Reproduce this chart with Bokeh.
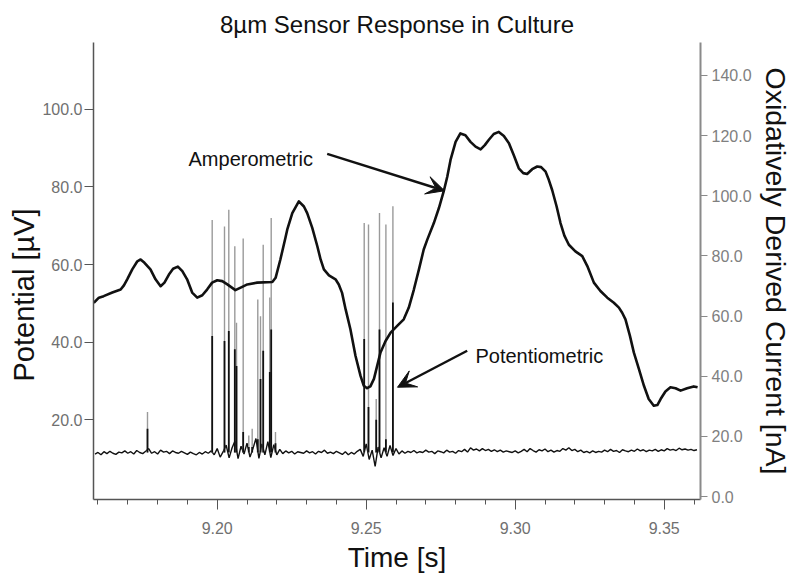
from bokeh.plotting import figure
from bokeh.models import (Range1d, LinearAxis, FixedTicker, PrintfTickFormatter,
                          Label, Arrow, VeeHead, ColumnDataSource, Title)
from bokeh.embed import file_html
from bokeh.resources import INLINE

# ---------------- data ----------------
# Amperometric trace: time [s] vs oxidatively derived current [nA] (right axis)
amp_t = [9.1586, 9.1603, 9.1619, 9.1648, 9.1676, 9.1687, 9.1698, 9.1715, 9.1732,
         9.1743, 9.1756, 9.1776, 9.1793, 9.1810, 9.1823, 9.1838, 9.1852, 9.1868,
         9.1883, 9.1899, 9.1916, 9.1933, 9.1950, 9.1966, 9.1983, 9.2000, 9.2017,
         9.2034, 9.2061, 9.2084, 9.2101, 9.2134, 9.2185, 9.2196, 9.2212, 9.2229,
         9.2235, 9.2252, 9.2274, 9.2291, 9.2302, 9.2319, 9.2336, 9.2347, 9.2358,
         9.2375, 9.2397, 9.2408, 9.2419, 9.2431, 9.2447, 9.2464, 9.2481, 9.2492,
         9.2503, 9.2514, 9.2526, 9.2537, 9.2548, 9.2565, 9.2582, 9.2604, 9.2626,
         9.2643, 9.2660, 9.2677, 9.2693, 9.2705, 9.2727, 9.2744, 9.2760, 9.2772,
         9.2783, 9.2800, 9.2816, 9.2833, 9.2850, 9.2867, 9.2884, 9.2898, 9.2911,
         9.2928, 9.2945, 9.2962, 9.2979, 9.2995, 9.3012, 9.3027, 9.3040, 9.3057,
         9.3074, 9.3087, 9.3102, 9.3113, 9.3124, 9.3139, 9.3152, 9.3165, 9.3180,
         9.3202, 9.3225, 9.3242, 9.3264, 9.3286, 9.3309, 9.3331, 9.3348, 9.3359,
         9.3370, 9.3385, 9.3398, 9.3415, 9.3432, 9.3448, 9.3465, 9.3477, 9.3488,
         9.3504, 9.3521, 9.3538, 9.3555, 9.3577, 9.3599, 9.3612]
amp_nA = [64.4, 66.1, 66.6, 67.8, 68.8, 70.2, 72.2, 75.5, 78.2,
          78.8, 77.7, 75.5, 72.2, 69.9, 71.1, 73.8, 75.7, 76.4,
          74.9, 72.2, 67.8, 66.1, 66.9, 68.8, 71.1, 71.9, 71.6,
          70.5, 68.6, 69.7, 70.5, 71.1, 71.3, 72.7, 78.8, 86.0,
          88.7, 94.2, 98.1, 96.4, 94.2, 89.3, 83.2, 78.8, 75.5,
          73.5, 72.2, 70.5, 67.7, 62.2, 55.6, 46.8, 40.1, 36.8,
          36.0, 36.6, 39.1, 43.5, 47.9, 51.7, 54.5, 56.7, 58.9,
          62.8, 68.8, 75.5, 82.1, 85.4, 90.9, 95.9, 101.4, 106.3,
          111.9, 117.9, 120.7, 120.1, 117.9, 116.3, 115.4, 116.8, 118.5,
          120.5, 121.2, 119.8, 117.4, 113.5, 109.1, 107.5, 107.2, 108.8,
          109.7, 109.5, 108.0, 105.2, 101.9, 96.4, 90.9, 86.7, 83.7,
          81.5, 79.9, 76.6, 71.1, 68.3, 66.1, 64.4, 62.8, 61.1,
          58.9, 53.4, 47.9, 42.4, 36.8, 32.4, 30.2, 30.4, 32.4,
          34.9, 36.3, 36.0, 35.2, 36.0, 36.6, 36.3]

# Potentiometric trace: sampled every 1 ms from 9.159 s, potential [uV] (left axis)
pot_t0 = 9.159
pot_dt = 0.001
pot_uV = [11.2, 11.6, 11.0, 11.8, 11.3, 11.9, 11.4, 11.1, 11.7, 11.5,
          12.0, 11.4, 11.8, 11.2, 12.1, 11.6, 11.3, 11.9, 12.6, 11.4,
          11.8, 11.2, 12.2, 11.7, 11.9, 11.3, 12.0, 11.6, 11.4, 11.9,
          11.5, 11.1, 11.7, 11.3, 11.0, 11.6, 11.2, 11.8, 11.4, 12.0,
          11.0, 12.6, 10.4, 11.8, 13.5, 10.2, 12.8, 14.6, 10.0, 13.2,
          11.2, 14.0, 10.4, 12.6, 15.2, 10.1, 13.8, 11.0, 14.4, 10.3,
          13.6, 11.0, 12.4, 11.3, 12.0, 11.5, 11.9, 11.2, 11.8, 11.6,
          11.4, 12.0, 11.5, 11.8, 11.2, 11.9, 11.6, 12.2, 11.4, 11.7,
          11.3, 11.9, 11.5, 11.1, 11.8, 11.0, 11.6, 11.2, 11.9, 12.4,
          10.6, 13.8, 9.8, 12.2, 8.0, 13.0, 10.2, 12.8, 10.6, 13.4,
          10.8, 12.6, 11.2, 12.0, 11.4, 11.9, 11.6, 12.1, 11.5, 11.8,
          11.6, 12.2, 11.7, 11.9, 11.3, 12.0, 11.8, 11.5, 12.2, 11.7,
          11.9, 11.4, 12.1, 11.8, 12.4, 11.7, 12.8, 12.2, 12.5, 12.0,
          12.6, 12.1, 12.4, 11.9, 12.3, 11.8, 12.2, 11.7, 12.0, 11.8,
          11.6, 12.0, 11.5, 11.9, 12.4, 11.8, 12.6, 12.1, 11.7, 12.3,
          12.0, 12.5, 11.8, 12.2, 11.7, 12.1, 11.9, 12.6, 12.2, 12.8,
          12.1, 12.4, 11.8, 12.2, 11.6, 11.9, 11.5, 12.0, 11.6, 11.9,
          11.7, 12.2, 11.8, 12.4, 11.9, 12.1, 11.6, 12.3, 12.0, 11.8,
          12.2, 11.9, 12.5, 12.0, 12.3, 11.8, 12.2, 12.0, 12.4, 11.9,
          12.3, 12.0, 12.6, 12.2, 12.4, 12.1, 12.7, 12.3, 12.5, 12.2,
          12.4, 12.1, 12.3]
pot_t = [round(pot_t0 + i * pot_dt, 4) for i in range(len(pot_uV))]

# Action-potential spikes on the potentiometric trace
spike_t = [9.17661, 9.19832, 9.20245, 9.20389, 9.20591, 9.20648, 9.20872, 9.21060,
           9.21174, 9.21362, 9.21453, 9.21544, 9.21765, 9.21812, 9.21956,
           9.24933, 9.25077, 9.25336, 9.25446, 9.25661, 9.25896]
spike_peak = [22.0, 71.5, 69.8, 74.1, 64.7, 45.0, 66.7, 16.0,
              17.7, 51.0, 46.7, 65.1, 51.5, 72.0, 16.9,
              70.7, 70.3, 25.4, 73.3, 70.3, 75.0]
spike_core = [17.7, 41.6, 40.3, 42.9, 38.2, 33.9, 16.9, 13.0,
              13.0, 15.0, 30.5, 37.8, 32.3, 43.3, 14.0,
              40.8, 23.3, 20.0, 43.3, 15.0, 50.2]
spike_base = [11.6] * len(spike_t)

x_major = [9.20, 9.25, 9.30, 9.35]
x_minor = [9.16, 9.17, 9.18, 9.19, 9.20, 9.21, 9.22, 9.23, 9.24, 9.25, 9.26,
           9.27, 9.28, 9.29, 9.30, 9.31, 9.32, 9.33, 9.34, 9.35, 9.36]
left_ticks = [20, 40, 60, 80, 100]
right_ticks = [0, 20, 40, 60, 80, 100, 120, 140]

FONT = "Liberation Sans"

# ---------------- figure ----------------
p = figure(width=794, height=575, output_backend="svg", toolbar_location=None,
           x_range=Range1d(9.15849, 9.36218), y_range=Range1d(-0.51, 117.18),
           min_border_left=93, min_border_right=94, min_border_top=42,
           min_border_bottom=74, title="8µm Sensor Response in Culture")
p.outline_line_color = None
p.grid.visible = False
p.background_fill_color = "white"
p.border_fill_color = "white"

p.title.text_font = FONT
p.title.text_font_size = "24px"
p.title.text_font_style = "normal"
p.title.align = "center"
p.title.text_color = "#111111"

p.extra_y_ranges = {"amp": Range1d(-0.99, 150.92)}

# bottom axis
xa = p.xaxis[0]
xa.ticker = FixedTicker(ticks=x_major, minor_ticks=x_minor)
xa.formatter = PrintfTickFormatter(format="%.2f")
xa.axis_label = "Time [s]"
xa.axis_label_text_font = FONT
xa.axis_label_text_font_size = "28px"
xa.axis_label_text_font_style = "normal"
xa.axis_label_text_color = "#111111"
xa.axis_label_standoff = 5
xa.major_label_text_font = FONT
xa.major_label_text_font_size = "16px"
xa.major_label_text_color = "#707070"
xa.major_label_standoff = 12
xa.axis_line_color = "#555555"
xa.axis_line_width = 1.5
xa.major_tick_line_color = "#555555"
xa.minor_tick_line_color = "#555555"
xa.major_tick_in = 0
xa.major_tick_out = 10
xa.minor_tick_in = 0
xa.minor_tick_out = 5

# left axis
ya = p.yaxis[0]
ya.ticker = FixedTicker(ticks=left_ticks)
ya.formatter = PrintfTickFormatter(format="%.1f")
ya.major_label_text_font = FONT
ya.major_label_text_font_size = "16px"
ya.major_label_text_color = "#707070"
ya.major_label_standoff = 2
ya.axis_line_color = "#555555"
ya.axis_line_width = 1.5
ya.major_tick_line_color = "#555555"
ya.major_tick_in = 0
ya.major_tick_out = 9
ya.minor_tick_line_color = None

# left axis title, drawn as a side title starting a little above the frame bottom
p.add_layout(Title(text="Potential [µV]", align="left", offset=118, standoff=0,
                   text_font=FONT, text_font_size="29px", text_font_style="normal",
                   text_color="#111111"), "left")

# right axis
ra = LinearAxis(y_range_name="amp")
ra.ticker = FixedTicker(ticks=right_ticks)
ra.formatter = PrintfTickFormatter(format="%.1f")
ra.axis_label = "Oxidatively Derived Current [nA]"
ra.axis_label_text_font = FONT
ra.axis_label_text_font_size = "28.5px"
ra.axis_label_text_font_style = "normal"
ra.axis_label_text_color = "#111111"
ra.axis_label_standoff = 5
ra.major_label_text_font = FONT
ra.major_label_text_font_size = "16px"
ra.major_label_text_color = "#808080"
ra.major_label_standoff = 4
ra.axis_line_color = "#8a8a8a"
ra.axis_line_width = 2
ra.major_tick_line_color = "#8a8a8a"
ra.major_tick_in = 0
ra.major_tick_out = 7
ra.minor_tick_line_color = None
p.add_layout(ra, "right")

# ---------------- glyphs ----------------
pot_src = ColumnDataSource(dict(t=pot_t, v=pot_uV))
p.line("t", "v", source=pot_src, line_color="#111111", line_width=1.4)

sp_src = ColumnDataSource(dict(t=spike_t, base=spike_base, peak=spike_peak, core=spike_core))
p.segment(x0="t", y0="base", x1="t", y1="peak", source=sp_src,
          line_color="#9a9a9a", line_width=1.4)
p.segment(x0="t", y0="base", x1="t", y1="core", source=sp_src,
          line_color="#111111", line_width=1.8)

amp_src = ColumnDataSource(dict(t=amp_t, i=amp_nA))
p.line("t", "i", source=amp_src, y_range_name="amp", line_color="#111111",
       line_width=2.6, line_join="round")

# ---------------- annotations ----------------
p.add_layout(Label(x=9.19037, y=87.2, text="Amperometric", text_font=FONT,
                   text_font_size="20px", text_baseline="middle", text_align="left",
                   text_color="#111111"))
p.add_layout(Arrow(end=VeeHead(size=18, fill_color="#111111", line_color="#111111"),
                   x_start=9.23691, y_start=88.5, x_end=9.27628, y_end=79.0,
                   line_width=2.5, line_color="#111111"))
p.add_layout(Label(x=9.28667, y=36.4, text="Potentiometric", text_font=FONT,
                   text_font_size="20px", text_baseline="middle", text_align="left",
                   text_color="#111111"))
p.add_layout(Arrow(end=VeeHead(size=18, fill_color="#111111", line_color="#111111"),
                   x_start=9.28389, y_start=37.8, x_end=9.26050, y_end=28.4,
                   line_width=2.5, line_color="#111111"))

open("out.html", "w").write(file_html(p, INLINE))
